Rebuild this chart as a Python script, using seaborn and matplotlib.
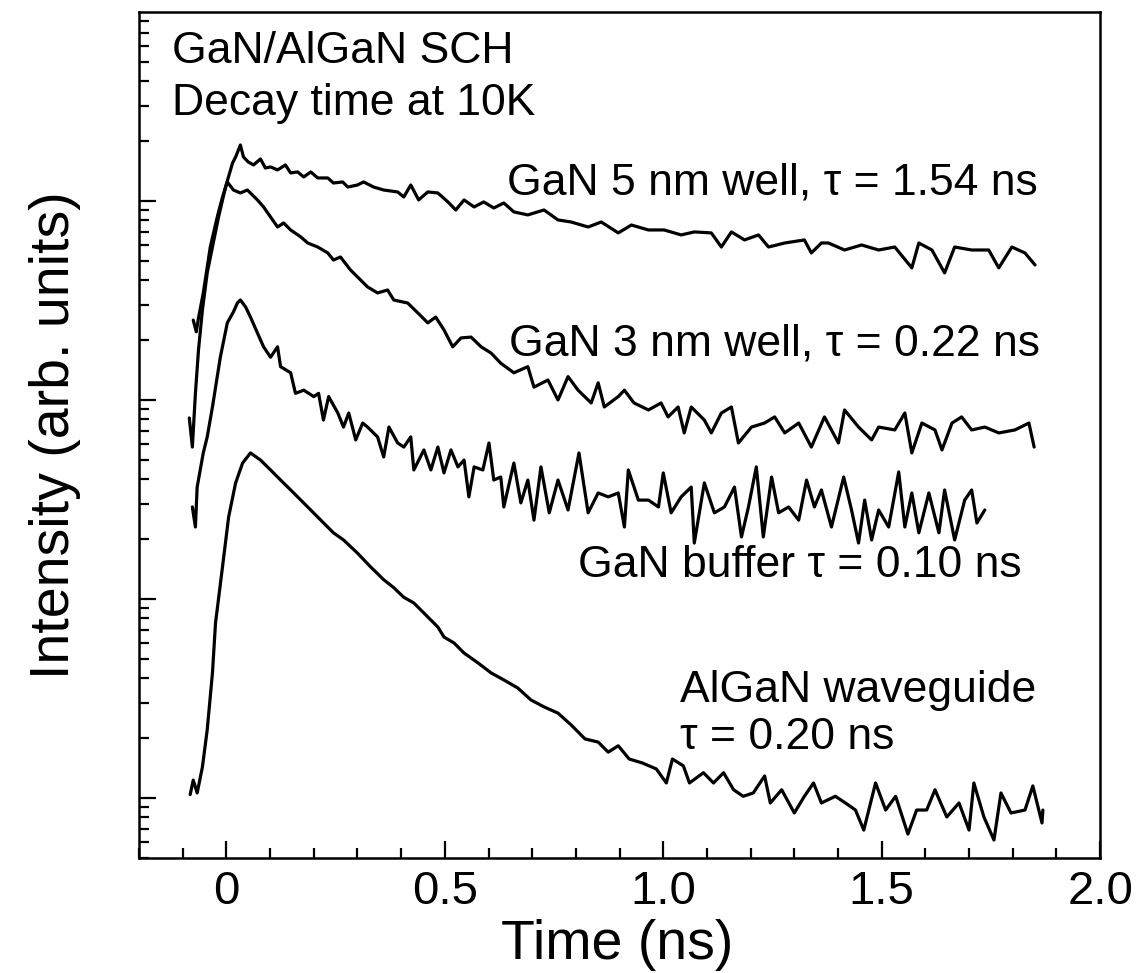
import numpy as np
import pandas as pd
import matplotlib
matplotlib.use("Agg")
import matplotlib.pyplot as plt
from matplotlib.ticker import LogLocator, NullFormatter, MultipleLocator
import seaborn as sns

# ---------------- data ----------------
t_5nm = [-0.085,-0.078,-0.071,-0.064,-0.055,-0.044,-0.032,-0.018,-0.002,0.014,0.021,0.032,0.039,0.050,0.062,0.078,0.089,0.101,0.117,0.135,0.147,0.163,0.177,0.193,0.209,0.232,0.245,0.266,0.278,0.300,0.314,0.337,0.360,0.392,0.406,0.422,0.440,0.461,0.484,0.507,0.525,0.544,0.567,0.589,0.612,0.635,0.658,0.690,0.727,0.759,0.789,0.828,0.858,0.897,0.927,0.966,1.002,1.041,1.071,1.110,1.133,1.156,1.186,1.218,1.241,1.278,1.323,1.339,1.362,1.378,1.415,1.454,1.493,1.530,1.569,1.585,1.615,1.644,1.667,1.706,1.745,1.768,1.798,1.828,1.851]
I_5nm = [81.2,58.0,108,178,283,435,587,831,1175,1552,1663,1911,1663,1570,1517,1626,1465,1482,1432,1517,1383,1399,1320,1399,1305,1305,1231,1246,1175,1203,1246,1175,1135,1110,1047,1203,1012,1110,1097,989,901,1012,933,989,922,977,881,851,901,803,784,740,784,691,757,715,715,675,699,691,587,699,637,675,587,615,637,548,615,615,567,601,567,587,461,615,567,435,587,567,567,461,587,548,477]

t_3nm = [-0.076,-0.069,-0.064,-0.053,-0.037,-0.021,-0.009,0.002,0.016,0.032,0.048,0.071,0.085,0.101,0.117,0.131,0.147,0.170,0.186,0.209,0.232,0.245,0.261,0.284,0.307,0.323,0.346,0.369,0.383,0.415,0.438,0.461,0.479,0.498,0.518,0.537,0.560,0.583,0.606,0.628,0.658,0.690,0.704,0.736,0.759,0.782,0.805,0.835,0.851,0.865,0.897,0.911,0.933,0.966,0.995,1.011,1.034,1.048,1.064,1.094,1.110,1.133,1.156,1.172,1.202,1.232,1.255,1.278,1.310,1.339,1.369,1.401,1.415,1.447,1.477,1.493,1.530,1.553,1.569,1.592,1.622,1.638,1.661,1.683,1.706,1.736,1.768,1.805,1.837,1.849]
I_3nm = [252,220,258,345,587,831,1047,1246,1135,1097,1135,1012,933,831,740,775,715,660,615,587,548,505,523,450,401,370,345,357,318,307,274,244,261,225,185,205,207,185,172,153,137,147,116,126,100,131,112,96.6,122,92.2,104,112,96.6,89.1,96.6,82.2,92.2,68.3,92.2,79.3,68.3,86.0,92.2,60.8,73.1,76.6,82.2,68.3,76.6,58.0,82.2,60.8,89.1,73.1,63.0,73.1,70.7,86.0,54.2,76.6,70.7,56.1,76.6,82.2,70.7,73.1,68.3,70.7,76.6,58.0]

t_buf = [-0.078,-0.071,-0.067,-0.060,-0.053,-0.044,-0.032,-0.014,0.002,0.016,0.025,0.032,0.044,0.055,0.071,0.085,0.101,0.117,0.124,0.147,0.158,0.177,0.200,0.211,0.222,0.234,0.255,0.268,0.280,0.296,0.312,0.323,0.346,0.360,0.372,0.392,0.406,0.422,0.429,0.452,0.468,0.484,0.498,0.514,0.530,0.544,0.555,0.567,0.587,0.601,0.612,0.628,0.635,0.658,0.674,0.690,0.704,0.720,0.739,0.759,0.782,0.807,0.828,0.851,0.874,0.897,0.911,0.920,0.943,0.966,0.989,1.000,1.018,1.041,1.064,1.071,1.094,1.117,1.140,1.163,1.179,1.195,1.213,1.229,1.248,1.264,1.287,1.310,1.328,1.346,1.362,1.385,1.413,1.431,1.447,1.461,1.477,1.493,1.516,1.539,1.553,1.569,1.585,1.608,1.631,1.644,1.667,1.690,1.706,1.718,1.736]
I_buf = [29.0,23.0,36.5,44.5,54.2,65.2,92.2,164,244,277,307,318,293,261,217,185,164,185,147,137,108,112,104,108,79.3,104,86.0,73.1,86.0,63.0,76.6,73.1,65.2,51.7,73.1,60.8,58.0,65.2,44.5,56.1,44.5,58.0,43.0,56.1,46.1,49.9,32.6,46.1,44.5,60.8,39.6,41.0,29.0,48.2,30.4,39.6,24.9,46.1,27.1,39.6,28.0,54.2,27.1,34.1,32.6,34.1,23.0,44.5,31.4,31.4,29.0,43.0,27.1,32.6,36.5,19.1,38.3,27.1,29.0,36.5,20.5,29.0,46.1,20.5,41.0,27.1,29.0,24.9,39.6,29.0,35.3,23.0,41.0,28.0,19.1,31.4,19.8,28.0,23.0,43.5,23.0,34.1,21.5,34.1,21.5,35.3,19.8,31.4,35.3,24.1,28.0]

t_wg = [-0.083,-0.076,-0.067,-0.055,-0.044,-0.032,-0.025,-0.009,0.005,0.021,0.037,0.055,0.078,0.101,0.124,0.154,0.186,0.216,0.245,0.268,0.300,0.330,0.360,0.383,0.406,0.429,0.461,0.484,0.498,0.521,0.544,0.576,0.606,0.635,0.667,0.697,0.727,0.759,0.789,0.821,0.851,0.874,0.897,0.922,0.952,0.984,1.007,1.021,1.046,1.060,1.092,1.115,1.138,1.161,1.183,1.206,1.232,1.245,1.271,1.300,1.323,1.344,1.362,1.394,1.417,1.440,1.459,1.486,1.509,1.532,1.560,1.580,1.603,1.622,1.649,1.677,1.700,1.711,1.734,1.757,1.773,1.796,1.828,1.846,1.867,1.869]
I_wg = [1.04,1.23,1.06,1.43,2.20,4.25,7.57,14.5,25.8,38.3,48.2,54.2,49.9,44.5,39.6,34.1,29.0,24.9,21.5,19.8,17.0,14.5,12.5,11.4,10.2,9.55,8.12,7.23,6.44,6.01,5.35,4.77,4.25,3.92,3.57,3.11,2.87,2.67,2.33,1.98,1.91,1.70,1.83,1.57,1.50,1.40,1.19,1.57,1.45,1.19,1.34,1.19,1.34,1.10,1.02,1.06,1.29,0.944,1.10,0.841,1.02,1.19,0.944,1.02,0.944,0.870,0.690,1.19,0.870,1.02,0.659,0.870,0.870,1.10,0.803,0.944,0.690,1.19,0.803,0.615,1.06,0.841,0.870,1.15,0.749,0.870]

x_ticks = [0, 0.5, 1.0, 1.5, 2.0]
x_tick_labels = ["0", "0.5", "1.0", "1.5", "2.0"]

series = {
    "GaN 5 nm well": (t_5nm, I_5nm),
    "GaN 3 nm well": (t_3nm, I_3nm),
    "GaN buffer": (t_buf, I_buf),
    "AlGaN waveguide": (t_wg, I_wg),
}

frames = []
for name, (t, I) in series.items():
    frames.append(pd.DataFrame({"time": t, "intensity": I, "sample": name}))
df = pd.concat(frames, ignore_index=True)

# ---------------- style ----------------
sns.set_style("ticks")
plt.rcParams["font.family"] = ["Liberation Sans", "DejaVu Sans"]
plt.rcParams["text.color"] = "black"
plt.rcParams["axes.labelcolor"] = "black"
plt.rcParams["xtick.color"] = "black"
plt.rcParams["ytick.color"] = "black"

fig = plt.figure(figsize=(11.38, 9.73), dpi=100)
ax = fig.add_axes([0.1222, 0.1182, 0.8445, 0.8695])

sns.lineplot(data=df, x="time", y="intensity", units="sample", estimator=None,
             sort=False, color="black", lw=2.3, ax=ax)

ax.set_yscale("log")
ax.set_xlim(-0.2, 2.0)
ax.set_ylim(0.4995, 8906)

ax.set_xticks(x_ticks)
ax.set_xticklabels(x_tick_labels)
ax.xaxis.set_minor_locator(MultipleLocator(0.1))
ax.yaxis.set_major_locator(LogLocator(base=10))
ax.yaxis.set_minor_locator(LogLocator(base=10, subs=np.arange(2, 10)))
ax.yaxis.set_major_formatter(NullFormatter())
ax.yaxis.set_minor_formatter(NullFormatter())

ax.tick_params(axis="both", which="major", direction="in", length=12, width=1.6,
               colors="black", labelsize=34, pad=9, top=False, right=False)
ax.tick_params(axis="both", which="minor", direction="in", length=7, width=1.6,
               colors="black", top=False, right=False)
for s in ax.spines.values():
    s.set_linewidth(1.8)
    s.set_color("black")
    s.set_visible(True)

ax.set_xlabel("Time (ns)", fontsize=40, color="black")
ax.set_ylabel("Intensity (arb. units)", fontsize=40, color="black")
ax.xaxis.label.set_va("center")
ax.yaxis.label.set_va("center")
ax.xaxis.set_label_coords(0.498, -0.1028)
ax.yaxis.set_label_coords(-0.0874, 0.5)

fs = 32
ax.text(-0.1245, 4937, "GaN/AlGaN SCH", fontsize=fs, ha="left", va="baseline", color="black")
ax.text(-0.1245, 2704, "Decay time at 10K", fontsize=fs, ha="left", va="baseline", color="black")
ax.text(1.858, 1072, "GaN 5 nm well, τ = 1.54 ns", fontsize=fs, ha="right", va="baseline", color="black")
ax.text(1.862, 168, "GaN 3 nm well, τ = 0.22 ns", fontsize=fs, ha="right", va="baseline", color="black")
ax.text(1.821, 12.9, "GaN buffer τ = 0.10 ns", fontsize=fs, ha="right", va="baseline", color="black")
ax.text(1.038, 3.04, "AlGaN waveguide", fontsize=fs, ha="left", va="baseline", color="black")
ax.text(1.038, 1.76, "τ = 0.20 ns", fontsize=fs, ha="left", va="baseline", color="black")

fig.savefig("out.png", dpi=100)
